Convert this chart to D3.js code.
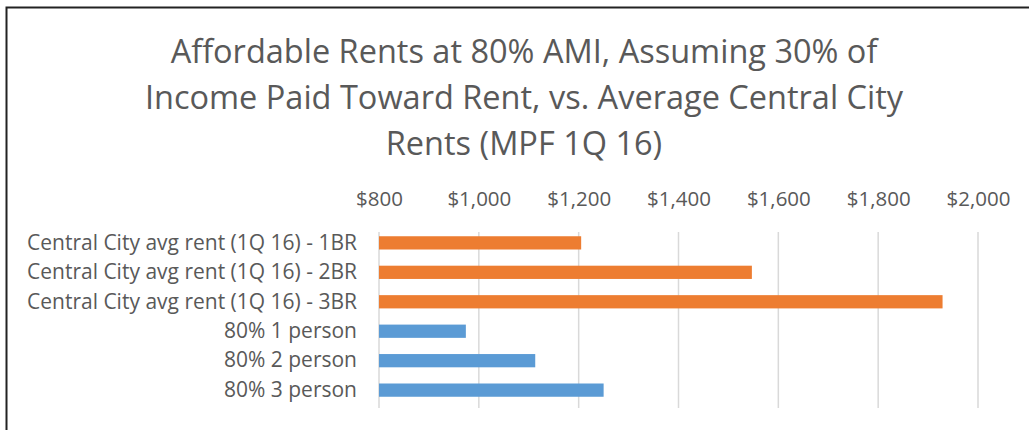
<!DOCTYPE html>
<html>
<head>
<meta charset="utf-8">
<script src="https://cdn.jsdelivr.net/npm/d3@7"></script>
<style>
  body { margin: 0; background: #fff; }
  svg text { font-family: "Open Sans", Lato, sans-serif; fill: #595959; }
</style>
</head>
<body>
<div id="chart"></div>
<script>
// categories, top to bottom
var categories = [
    "Central City avg rent (1Q 16) - 1BR",
    "Central City avg rent (1Q 16) - 2BR",
    "Central City avg rent (1Q 16) - 3BR",
    "80% 1 person",
    "80% 2 person",
    "80% 3 person"
];
var rents = [1205, 1547, 1929, 974, 1113, 1250];
var groups = ["market", "market", "market", "ami", "ami", "ami"];
var tickValues = [800, 1000, 1200, 1400, 1600, 1800, 2000];
var titleLines = [
    "Affordable Rents at 80% AMI, Assuming 30% of",
    "Income Paid Toward Rent, vs. Average Central City",
    "Rents (MPF 1Q 16)"
];

function init() {
    const width = 1029;
    const height = 430;

    var svg = d3.select("#chart")
        .append("svg")
        .attr("width", width)
        .attr("height", height);

    // chart frame (right/bottom edges run off the picture)
    svg.append("rect")
        .attr("x", 6.5)
        .attr("y", 7.5)
        .attr("width", 1040)
        .attr("height", 440)
        .attr("fill", "none")
        .attr("stroke", "#222")
        .attr("stroke-width", 2);

    // title
    svg.append("text")
        .attr("text-anchor", "middle")
        .style("font-size", "32.5px")
        .selectAll("tspan")
        .data(titleLines)
        .enter()
        .append("tspan")
        .attr("x", 524)
        .attr("y", (d, i) => 63 + i * 46)
        .text(d => d);

    var xScale = d3.scaleLinear()
        .domain([800, 2000])
        .range([379, 978]);

    var yScale = d3.scaleBand()
        .domain(categories)
        .range([228, 405])
        .paddingInner(0.55)
        .paddingOuter(0.28);

    // gridlines
    svg.append("g")
        .selectAll("line")
        .data(tickValues)
        .enter()
        .append("line")
        .attr("x1", d => xScale(d))
        .attr("x2", d => xScale(d))
        .attr("y1", 232)
        .attr("y2", 408)
        .attr("stroke", "#d9d9d9")
        .attr("stroke-width", 1.5);

    // top axis labels
    var xAxis = svg.append("g")
        .attr("transform", "translate(0,206)")
        .call(d3.axisTop(xScale)
            .tickValues(tickValues)
            .tickSize(0)
            .tickPadding(0)
            .tickFormat(d => "$" + d3.format(",")(d)));
    xAxis.select(".domain").remove();
    xAxis.selectAll("text")
        .attr("fill", "#595959")
        .style("font-size", "20.5px");

    // category labels
    var yAxis = svg.append("g")
        .attr("transform", "translate(357,0)")
        .call(d3.axisLeft(yScale).tickSize(0).tickPadding(0));
    yAxis.select(".domain").remove();
    yAxis.selectAll("text")
        .attr("fill", "#595959")
        .style("font-size", "21px");

    // bars
    var color = d3.scaleOrdinal()
        .domain(["market", "ami"])
        .range(["#ed7d31", "#5b9bd5"]);

    svg.append("g")
        .selectAll("rect")
        .data(categories)
        .enter()
        .append("rect")
        .attr("x", xScale(800))
        .attr("y", d => yScale(d))
        .attr("height", yScale.bandwidth())
        .attr("width", (d, i) => xScale(rents[i]) - xScale(800))
        .attr("fill", (d, i) => color(groups[i]));
}

init();
</script>
</body>
</html>
